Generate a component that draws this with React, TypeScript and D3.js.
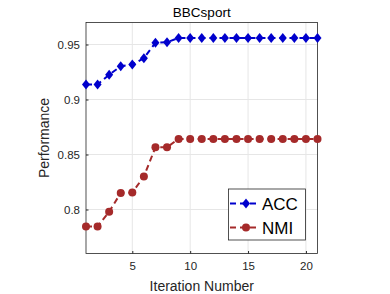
import React, { useEffect, useRef } from 'react'
import * as d3 from 'd3'

const iterations = d3.range(1, 22)
const accValues = [0.9137, 0.9137, 0.9225, 0.9303, 0.9318, 0.9376, 0.9515, 0.952,
  0.956, 0.956, 0.956, 0.956, 0.956, 0.956, 0.956, 0.956, 0.956, 0.956, 0.956, 0.956, 0.956]
const nmiValues = [0.7846, 0.7846, 0.798, 0.815, 0.8154, 0.83, 0.8566, 0.8566,
  0.8642, 0.8642, 0.8642, 0.8642, 0.8642, 0.8642, 0.8642, 0.8642, 0.8642, 0.8642, 0.8642, 0.8642, 0.8642]
const xTicks = [5, 10, 15, 20]
const yTicks = [0.8, 0.85, 0.9, 0.95]
const seriesNames = ['ACC', 'NMI']

export default function App() {
  const ref = useRef<SVGSVGElement>(null)

  useEffect(() => {
    const svg = d3.select(ref.current)
    svg.selectAll('*').remove()
    const font = 'Liberation Sans, Arial, sans-serif'
    const left = 86, right = 317.5, top = 22.5, bottom = 253.5

    const x = d3.scaleLinear().domain([1, 21]).range([left, right])
    const y = d3.scaleLinear().domain([0.76, 0.97]).range([bottom, top])

    svg.append('rect').attr('width', 390).attr('height', 294).attr('fill', 'white')

    // grid
    const grid = svg.append('g').attr('stroke', '#e6e6e6').attr('stroke-width', 1)
    xTicks.forEach(t => grid.append('line').attr('x1', x(t)).attr('x2', x(t)).attr('y1', top).attr('y2', bottom))
    yTicks.forEach(t => grid.append('line').attr('x1', left).attr('x2', right).attr('y1', y(t)).attr('y2', y(t)))

    // axes with inward ticks
    const xAxis = svg.append('g').attr('transform', `translate(0,${bottom})`)
      .call(d3.axisBottom(x).tickValues(xTicks).tickSizeInner(-2.5).tickSizeOuter(0).tickPadding(8))
    const yAxis = svg.append('g').attr('transform', `translate(${left},0)`)
      .call(d3.axisLeft(y).tickValues(yTicks).tickFormat(d => String(+d)).tickSizeInner(-2.5).tickSizeOuter(0).tickPadding(6))
    ;[xAxis, yAxis].forEach(a => {
      a.selectAll('text').attr('font-family', font).attr('font-size', 11.5).attr('fill', '#262626')
      a.selectAll('line').attr('stroke', '#262626')
      a.select('.domain').remove()
    })
    svg.append('rect').attr('x', left).attr('y', top).attr('width', right - left).attr('height', bottom - top)
      .attr('fill', 'none').attr('stroke', '#262626').attr('stroke-width', 0.8)

    const accColor = '#0000cd'
    const nmiColor = '#a52a2a'
    const diamond = (cx: number, cy: number) => `M${cx},${cy - 5}L${cx + 4},${cy}L${cx},${cy + 5}L${cx - 4},${cy}Z`

    const lineGen = (vals: number[]) => d3.line<number>().x((_, i) => x(iterations[i])).y(d => y(d))(vals)

    svg.append('path').attr('d', lineGen(nmiValues)).attr('fill', 'none').attr('stroke', nmiColor)
      .attr('stroke-width', 2).attr('stroke-dasharray', '6,4')
    svg.selectAll('.nmi').data(nmiValues).enter().append('circle')
      .attr('cx', (_, i) => x(iterations[i])).attr('cy', d => y(d)).attr('r', 4).attr('fill', nmiColor)

    svg.append('path').attr('d', lineGen(accValues)).attr('fill', 'none').attr('stroke', accColor)
      .attr('stroke-width', 2).attr('stroke-dasharray', '6,4')
    svg.selectAll('.acc').data(accValues).enter().append('path')
      .attr('d', (d, i) => diamond(x(iterations[i]), y(d))).attr('fill', accColor)

    // title and labels
    svg.append('text').attr('x', (left + right) / 2).attr('y', 17).attr('text-anchor', 'middle')
      .attr('font-family', font).attr('font-size', 13.5).attr('fill', '#000').text('BBCsport')
    svg.append('text').attr('x', (left + right) / 2).attr('y', 291).attr('text-anchor', 'middle')
      .attr('font-family', font).attr('font-size', 14).attr('fill', '#262626').text('Iteration Number')
    svg.append('text').attr('transform', `translate(49,${(top + bottom) / 2}) rotate(-90)`).attr('text-anchor', 'middle')
      .attr('font-family', font).attr('font-size', 14).attr('fill', '#262626').text('Performance')

    // legend
    const lg = svg.append('g')
    lg.append('rect').attr('x', 228.5).attr('y', 189).attr('width', 77).attr('height', 51)
      .attr('fill', 'white').attr('stroke', '#262626').attr('stroke-width', 0.8)
    const rows = [
      { name: seriesNames[0], color: accColor, cy: 203.5, marker: 'diamond' },
      { name: seriesNames[1], color: nmiColor, cy: 227.5, marker: 'circle' },
    ]
    rows.forEach(r => {
      lg.append('line').attr('x1', 230).attr('x2', 260).attr('y1', r.cy).attr('y2', r.cy)
        .attr('stroke', r.color).attr('stroke-width', 2).attr('stroke-dasharray', '6,4')
      if (r.marker === 'diamond') lg.append('path').attr('d', diamond(246, r.cy)).attr('fill', r.color)
      else lg.append('circle').attr('cx', 246).attr('cy', r.cy).attr('r', 4).attr('fill', r.color)
      lg.append('text').attr('x', 262).attr('y', r.cy + 6).attr('font-family', font).attr('font-size', 17)
        .attr('fill', '#000').text(r.name)
    })
  }, [])

  return (
    <svg ref={ref} width={390} height={294} style={{ position: 'absolute', left: 0, top: 0 }}></svg>
  )
}
